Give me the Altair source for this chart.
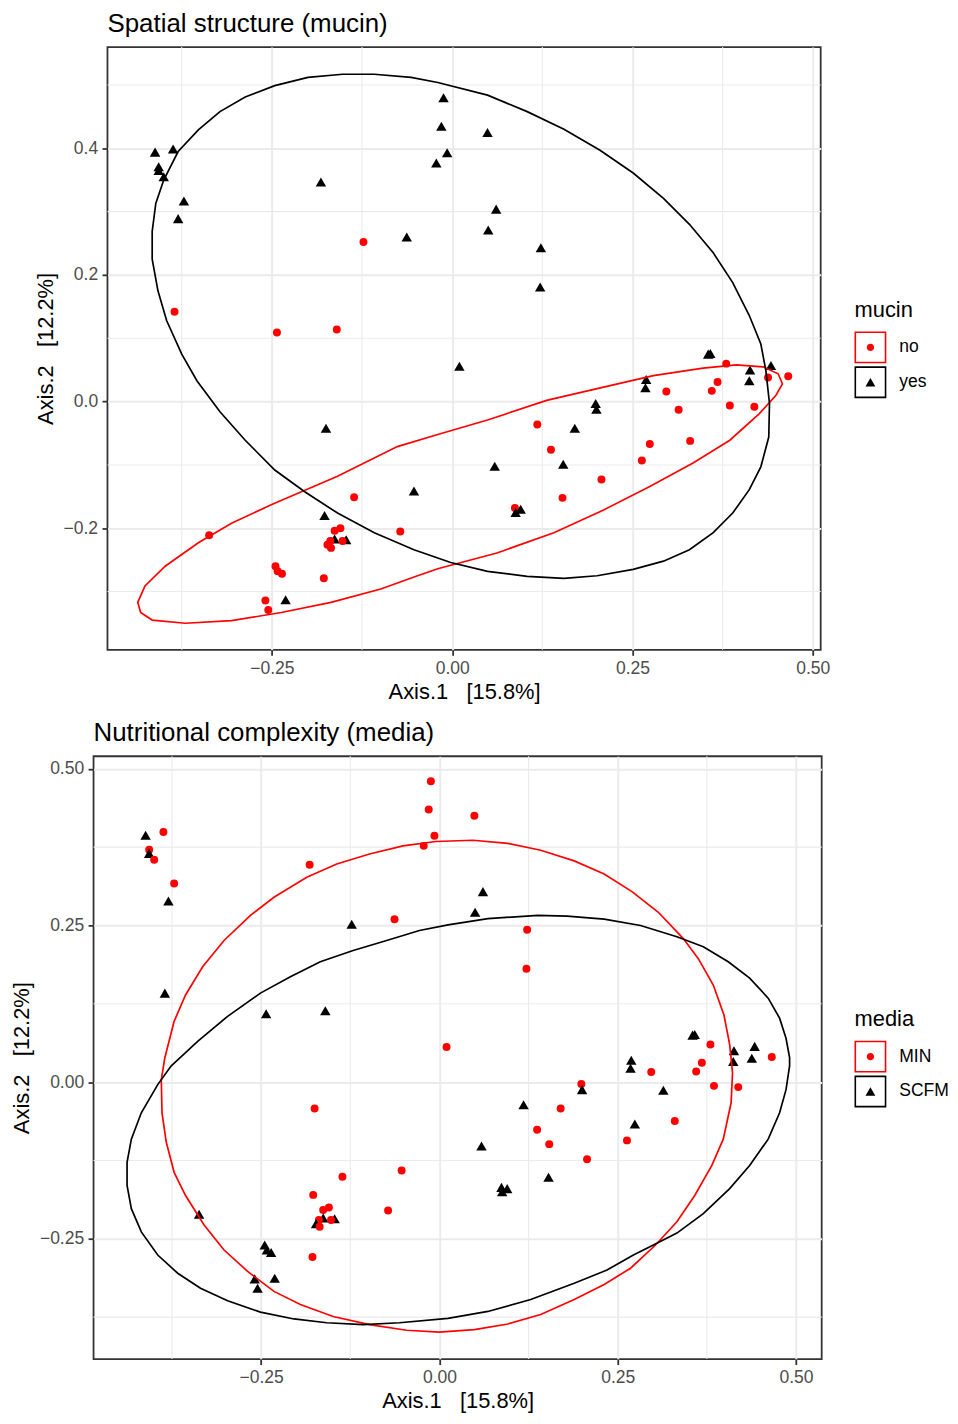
import altair as alt
import pandas as pd

FONT = "Liberation Sans"

# ---------------- ordination coordinates (shared by both panels) ----------------
pc_x = [-0.412, -0.387, -0.407, -0.407, -0.400, -0.372, -0.380, -0.182, -0.123, -0.063,
        -0.385, -0.243, -0.160, -0.012, -0.015, -0.007, -0.022, 0.049, 0.061, 0.050,
        0.123, 0.122, 0.355, 0.358, 0.010, 0.380, 0.442, 0.413, 0.466, 0.438,
        0.412, 0.368, 0.269, 0.268, 0.297, 0.360, 0.385, 0.419, 0.314, 0.199,
        0.200, 0.118, 0.170, 0.137, 0.274, 0.330, 0.263, 0.059, 0.154, 0.207,
        0.153, 0.087, 0.095, 0.088, -0.175, -0.053, -0.136, -0.177, -0.072, -0.337,
        -0.155, -0.163, -0.163, -0.147, -0.152, -0.169, -0.173, -0.168, -0.245, -0.242,
        -0.236, -0.178, -0.259, -0.255, -0.231]
pc_y = [0.394, 0.399, 0.371, 0.365, 0.355, 0.317, 0.289, 0.347, 0.252, 0.260,
        0.142, 0.109, 0.114, 0.480, 0.435, 0.393, 0.377, 0.425, 0.304, 0.271,
        0.243, 0.181, 0.075, 0.076, 0.056, 0.060, 0.057, 0.050, 0.040, 0.038,
        0.033, 0.031, 0.035, 0.022, 0.016, 0.017, -0.006, -0.008, -0.013, -0.003,
        -0.012, -0.036, -0.042, -0.076, -0.067, -0.062, -0.093, -0.102, -0.099, -0.123,
        -0.152, -0.168, -0.170, -0.175, -0.042, -0.141, -0.151, -0.180, -0.205, -0.211,
        -0.200, -0.204, -0.217, -0.218, -0.220, -0.220, -0.226, -0.231, -0.260, -0.268,
        -0.272, -0.279, -0.314, -0.329, -0.313]
mucin = ["yes", "yes", "yes", "yes", "yes", "yes", "yes", "yes", "no", "yes",
         "no", "no", "no", "yes", "yes", "yes", "yes", "yes", "yes", "yes",
         "yes", "yes", "yes", "yes", "yes", "no", "yes", "yes", "no", "no",
         "yes", "no", "yes", "yes", "no", "no", "no", "no", "no", "yes",
         "yes", "no", "yes", "no", "no", "no", "no", "yes", "yes", "no",
         "no", "no", "yes", "yes", "yes", "yes", "no", "yes", "no", "no",
         "no", "no", "yes", "yes", "no", "no", "no", "no", "no", "no",
         "no", "no", "no", "no", "yes"]
media = ["SCFM", "MIN", "MIN", "SCFM", "MIN", "MIN", "SCFM", "MIN", "SCFM", "MIN",
         "SCFM", "SCFM", "SCFM", "MIN", "MIN", "MIN", "MIN", "MIN", "SCFM", "SCFM",
         "MIN", "MIN", "SCFM", "SCFM", "MIN", "MIN", "SCFM", "SCFM", "MIN", "SCFM",
         "SCFM", "MIN", "SCFM", "SCFM", "MIN", "MIN", "MIN", "MIN", "SCFM", "MIN",
         "SCFM", "SCFM", "MIN", "MIN", "SCFM", "MIN", "MIN", "SCFM", "MIN", "MIN",
         "SCFM", "SCFM", "SCFM", "SCFM", "MIN", "MIN", "MIN", "MIN", "MIN", "SCFM",
         "MIN", "MIN", "SCFM", "SCFM", "MIN", "MIN", "SCFM", "MIN", "SCFM", "SCFM",
         "SCFM", "MIN", "SCFM", "SCFM", "SCFM"]

# ---------------- ellipse outlines ----------------
ell_yes_x = [-0.152, -0.108, -0.057, -0.020, 0.049, 0.104, 0.155, 0.205, 0.251, 0.293,
             0.329, 0.362, 0.389, 0.412, 0.428, 0.435, 0.440, 0.439, 0.428, 0.412,
             0.389, 0.362, 0.329, 0.293, 0.251, 0.201, 0.155, 0.104, 0.049, -0.002,
             -0.053, -0.108, -0.159, -0.205, -0.246, -0.287, -0.322, -0.354, -0.375, -0.396,
             -0.408, -0.416, -0.416, -0.411, -0.400, -0.380, -0.352, -0.322, -0.287, -0.246,
             -0.200]
ell_yes_y = [0.517, 0.517, 0.512, 0.504, 0.484, 0.458, 0.430, 0.397, 0.361, 0.321,
             0.280, 0.235, 0.188, 0.136, 0.091, 0.049, -0.003, -0.056, -0.103, -0.139,
             -0.176, -0.207, -0.234, -0.252, -0.265, -0.275, -0.279, -0.276, -0.268, -0.254,
             -0.234, -0.207, -0.176, -0.142, -0.108, -0.061, -0.016, 0.033, 0.075, 0.128,
             0.175, 0.225, 0.269, 0.313, 0.350, 0.395, 0.429, 0.458, 0.481, 0.499,
             0.512]
ell_no_x = [0.458, 0.449, 0.426, 0.385, 0.334, 0.274, 0.210, 0.141, 0.062, -0.020,
            -0.048, -0.099, -0.168, -0.237, -0.306, -0.370, -0.416, -0.432, -0.436, -0.426,
            -0.398, -0.352, -0.306, -0.251, -0.159, -0.076, -0.020, 0.049, 0.131, 0.210,
            0.279, 0.348, 0.394, 0.431, 0.452]
ell_no_y = [0.028, 0.010, -0.019, -0.061, -0.097, -0.134, -0.171, -0.207, -0.239, -0.264,
            -0.275, -0.296, -0.317, -0.333, -0.346, -0.350, -0.345, -0.333, -0.317, -0.291,
            -0.260, -0.223, -0.192, -0.163, -0.118, -0.071, -0.052, -0.029, 0.002, 0.023,
            0.041, 0.053, 0.058, 0.055, 0.044]
ell_min_x = [-0.390, -0.385, -0.372, -0.356, -0.332, -0.302, -0.265, -0.232, -0.186, -0.144,
             -0.098, -0.051, -0.005, 0.047, 0.096, 0.142, 0.189, 0.231, 0.270, 0.307,
             0.342, 0.363, 0.384, 0.399, 0.407, 0.411, 0.409, 0.398, 0.382, 0.358,
             0.333, 0.303, 0.268, 0.231, 0.189, 0.142, 0.096, 0.049, 0.000, -0.046,
             -0.098, -0.149, -0.195, -0.232, -0.269, -0.302, -0.330, -0.356, -0.372, -0.383,
             -0.389]
ell_min_y = [0.004, 0.039, 0.097, 0.139, 0.184, 0.226, 0.266, 0.295, 0.327, 0.348,
             0.364, 0.377, 0.384, 0.386, 0.381, 0.370, 0.353, 0.332, 0.304, 0.271,
             0.229, 0.197, 0.155, 0.107, 0.060, 0.015, -0.033, -0.091, -0.133, -0.181,
             -0.223, -0.260, -0.297, -0.323, -0.347, -0.371, -0.386, -0.395, -0.399, -0.396,
             -0.387, -0.374, -0.355, -0.334, -0.302, -0.268, -0.228, -0.181, -0.144, -0.096,
             -0.049]
ell_scfm_x = [-0.438, -0.438, -0.432, -0.418, -0.395, -0.376, -0.356, -0.339, -0.297, -0.251,
              -0.209, -0.167, -0.121, -0.074, -0.028, 0.012, 0.068, 0.138, 0.179, 0.231,
              0.282, 0.333, 0.370, 0.405, 0.435, 0.461, 0.477, 0.486, 0.491, 0.491,
              0.486, 0.477, 0.461, 0.435, 0.407, 0.370, 0.333, 0.300, 0.272, 0.235,
              0.189, 0.128, 0.068, 0.012, -0.056, -0.107, -0.158, -0.204, -0.251, -0.297,
              -0.335, -0.367, -0.395, -0.418, -0.432]
ell_scfm_y = [-0.165, -0.128, -0.091, -0.049, -0.004, 0.026, 0.047, 0.065, 0.105, 0.142,
              0.168, 0.192, 0.210, 0.226, 0.242, 0.251, 0.261, 0.266, 0.265, 0.260,
              0.250, 0.232, 0.216, 0.192, 0.166, 0.134, 0.102, 0.070, 0.039, 0.026,
              -0.012, -0.049, -0.091, -0.133, -0.170, -0.210, -0.241, -0.260, -0.276, -0.300,
              -0.321, -0.347, -0.366, -0.377, -0.384, -0.387, -0.384, -0.378, -0.367, -0.349,
              -0.329, -0.305, -0.276, -0.239, -0.202]

# ---------------- ticks ----------------
x_ticks = [-0.25, 0.0, 0.25, 0.5]
x_minor = [-0.375, -0.125, 0.125, 0.375]
top_y_ticks = [-0.2, 0.0, 0.2, 0.4]
top_y_minor = [-0.3, -0.1, 0.1, 0.3, 0.5]
bot_y_ticks = [-0.25, 0.0, 0.25, 0.5]
bot_y_minor = [-0.375, -0.125, 0.125, 0.375]

X_TITLE = "Axis.1\u00a0\u00a0\u00a0[15.8%]"
Y_TITLE = "Axis.2\u00a0\u00a0\u00a0[12.2%]"

RED = "#FF0000"
BLACK = "#000000"

# legend keys: a square frame with the group's point symbol inside
FRAME = "M-1,-1L1,-1L1,1L-1,1Z M-0.9,-0.9L-0.9,0.9L0.9,0.9L0.9,-0.9Z"
KEY_DOT = FRAME + " M0.23,0A0.23,0.23,0,1,1,-0.23,0A0.23,0.23,0,1,1,0.23,0Z"
KEY_TRI = FRAME + " M0,-0.27L0.31,0.27L-0.31,0.27Z"


def panel(groups, domain, ellipses, title, xdom, ydom, yticks, yfmt, yminor,
          w, h, legend_title, lx, ly):
    pts = pd.DataFrame({"x": pc_x, "y": pc_y, "g": groups})
    rows = []
    for name, ex, ey in ellipses:
        for i, (a, b) in enumerate(zip(ex, ey)):
            rows.append({"ex": a, "ey": b, "eg": name, "i": i})
    edf = pd.DataFrame(rows)

    xs = alt.Scale(domain=xdom, nice=False, zero=False)
    ys = alt.Scale(domain=ydom, nice=False, zero=False)
    cs = alt.Scale(domain=domain, range=[RED, BLACK])
    xax = alt.Axis(values=x_ticks, format=".2f", title=X_TITLE)
    yax = alt.Axis(values=yticks, format=yfmt, title=Y_TITLE)

    legend = alt.Legend(
        title=legend_title, orient="none", legendX=lx, legendY=ly,
        symbolSize=1024, symbolStrokeWidth=0, symbolOpacity=1, padding=0,
        titleFontSize=22, titleFont=FONT, titleFontWeight="normal", titleColor="black",
        titlePadding=10, labelFontSize=17.6, labelFont=FONT, labelColor="black",
        labelOffset=13, rowPadding=3,
    )

    minor_x = alt.Chart(pd.DataFrame({"v": x_minor})).mark_rule(
        color="#EBEBEB", strokeWidth=1.1
    ).encode(x=alt.X("v:Q", scale=xs, axis=xax))
    minor_y = alt.Chart(pd.DataFrame({"v": yminor})).mark_rule(
        color="#EBEBEB", strokeWidth=1.1
    ).encode(y=alt.Y("v:Q", scale=ys, axis=yax))

    points = alt.Chart(pts).mark_point(filled=True, opacity=1).encode(
        x=alt.X("x:Q", scale=xs, axis=xax),
        y=alt.Y("y:Q", scale=ys, axis=yax),
        color=alt.Color("g:N", scale=cs, legend=None),
        shape=alt.Shape("g:N", scale=alt.Scale(domain=domain, range=["circle", "triangle-up"]), legend=None),
        size=alt.Size("g:N", scale=alt.Scale(domain=domain, range=[64, 110]), legend=None),
    )

    ell = alt.Chart(edf).mark_line(strokeWidth=1.7, interpolate="linear-closed").encode(
        x=alt.X("ex:Q", scale=xs, axis=xax),
        y=alt.Y("ey:Q", scale=ys, axis=yax),
        color=alt.Color("eg:N", scale=cs, legend=None),
        order=alt.Order("i:Q"),
    )

    # invisible copy of the points that only carries the legend keys
    keys = alt.Chart(pts).mark_point(filled=True, opacity=0).encode(
        x=alt.X("x:Q", scale=xs, axis=xax),
        y=alt.Y("y:Q", scale=ys, axis=yax),
        color=alt.Color("g:N", scale=cs, legend=legend),
        shape=alt.Shape("g:N", scale=alt.Scale(domain=domain, range=[KEY_DOT, KEY_TRI]), legend=legend),
    )

    return alt.layer(minor_x, minor_y, points, ell, keys).resolve_scale(
        color="independent", shape="independent", size="independent"
    ).properties(
        width=w, height=h,
        title=alt.TitleParams(text=title, anchor="start", frame="group", fontSize=26,
                              font=FONT, fontWeight="normal", color="black", offset=10),
    )


def spacer():
    return alt.Chart(pd.DataFrame({"s": [0]})).mark_point(opacity=0).encode(
        x=alt.X("s:Q", axis=None), y=alt.Y("s:Q", axis=None)
    ).properties(width=1, height=1, view=alt.ViewBackground(stroke="transparent"))


top = panel(mucin, ["no", "yes"],
            [("no", ell_no_x, ell_no_y), ("yes", ell_yes_x, ell_yes_y)],
            "Spatial structure (mucin)", [-0.478, 0.511], [-0.392, 0.560],
            top_y_ticks, ".1f", top_y_minor, 717, 606, "mucin", 751, 254)

bottom = panel(media, ["MIN", "SCFM"],
               [("MIN", ell_min_x, ell_min_y), ("SCFM", ell_scfm_x, ell_scfm_y)],
               "Nutritional complexity (media)", [-0.485, 0.536], [-0.442, 0.520],
               bot_y_ticks, ".2f", bot_y_minor, 732, 606, "media", 765, 254)

ind = dict(color="independent", shape="independent", size="independent")

top_cell = alt.hconcat(spacer(), top, spacing=26).resolve_scale(**ind)
bot_cell = alt.hconcat(spacer(), bottom, spacing=3).resolve_scale(**ind)

chart = alt.vconcat(top_cell, bot_cell, spacing=15).resolve_scale(**ind).properties(
    padding={"left": -10, "top": -2.5, "right": 0, "bottom": 0}
).configure(font=FONT).configure_view(
    stroke="#333333", strokeWidth=1.8
).configure_axis(
    labelFont=FONT, labelFontSize=17.6, labelColor="#4D4D4D", labelFlush=False,
    titleFont=FONT, titleFontSize=22, titleColor="black", titleFontWeight="normal",
    tickColor="#333333", tickSize=5.5, tickWidth=1.8, labelPadding=4.4, titlePadding=5.5,
    domain=False, gridColor="#EBEBEB", gridWidth=2,
).configure_axisX(titlePadding=4.5)

chart.save("out.html", embed_options={"renderer": "svg", "actions": False})
